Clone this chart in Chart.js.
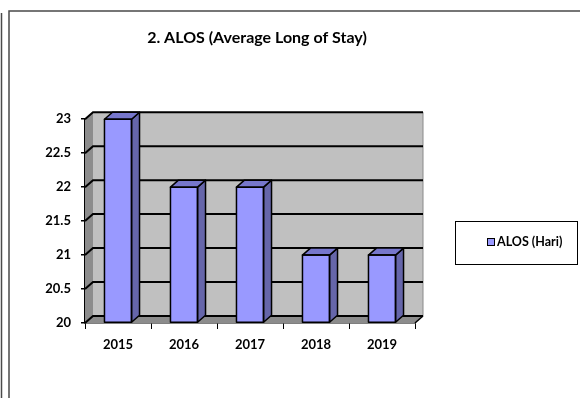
<!DOCTYPE html>
<html>
<head>
<meta charset="utf-8">
<script src="https://cdn.jsdelivr.net/npm/chart.js@4/dist/chart.umd.min.js"></script>
<style>
  html, body { margin: 0; padding: 0; background: #ffffff; }
  #wrap { width: 580px; height: 398px; position: relative; }
</style>
</head>
<body>
<div id="wrap"><canvas id="c" width="580" height="398"></canvas></div>
<script>
const titleText = "2. ALOS (Average Long of Stay)";
const categories = ["2015", "2016", "2017", "2018", "2019"];
const seriesLabel = "ALOS (Hari)";
const alosValues = [23, 22, 22, 21, 21];
const yTicks = [20, 20.5, 21, 21.5, 22, 22.5, 23];
const yMin = 20, yMax = 23;

const DX = 8, DY = -7;
const FONT = "Lato, 'Liberation Sans', sans-serif";

const threeD = {
  id: 'threeD',
  beforeDraw(chart) {
    const ctx = chart.ctx;
    ctx.save();
    ctx.fillStyle = '#ffffff';
    ctx.fillRect(0, 0, chart.width, chart.height);
    // page frame
    ctx.strokeStyle = '#4a4a4a';
    ctx.lineWidth = 1.5;
    ctx.beginPath();
    ctx.moveTo(9, 398); ctx.lineTo(9, 11); ctx.lineTo(580, 11);
    ctx.moveTo(1.5, 13); ctx.lineTo(1.5, 398);
    ctx.stroke();
    ctx.restore();
  },
  beforeDatasetsDraw(chart) {
    const ctx = chart.ctx;
    const a = chart.chartArea;
    const y = chart.scales.y;
    const L = a.left, R = a.right, T = a.top, B = a.bottom;
    ctx.save();
    // back wall
    ctx.fillStyle = '#c0c0c0';
    ctx.fillRect(L + DX, T + DY, R - L, B - T);
    // left side wall
    ctx.fillStyle = '#8c8c8c';
    ctx.beginPath();
    ctx.moveTo(L, T); ctx.lineTo(L + DX, T + DY); ctx.lineTo(L + DX, B + DY); ctx.lineTo(L, B);
    ctx.closePath(); ctx.fill();
    // floor
    ctx.fillStyle = '#8c8c8c';
    ctx.beginPath();
    ctx.moveTo(L, B); ctx.lineTo(L + DX, B + DY); ctx.lineTo(R + DX, B + DY); ctx.lineTo(R, B);
    ctx.closePath(); ctx.fill();
    // right wall edge
    ctx.strokeStyle = '#8a8a8a';
    ctx.lineWidth = 1;
    ctx.beginPath();
    ctx.moveTo(R + DX, T + DY); ctx.lineTo(R + DX, B + DY);
    ctx.stroke();
    // gridlines
    ctx.strokeStyle = '#000000';
    ctx.lineWidth = 2;
    yTicks.forEach(v => {
      const py = y.getPixelForValue(v);
      ctx.beginPath();
      ctx.moveTo(L, py); ctx.lineTo(L + DX, py + DY); ctx.lineTo(R + DX, py + DY);
      ctx.stroke();
    });
    // floor right edge
    ctx.lineWidth = 1.5;
    ctx.beginPath();
    ctx.moveTo(R, B); ctx.lineTo(R + DX, B + DY);
    ctx.stroke();
    ctx.restore();
  },
  afterDatasetsDraw(chart) {
    const ctx = chart.ctx;
    const meta = chart.getDatasetMeta(0);
    ctx.save();
    ctx.strokeStyle = '#000000';
    ctx.lineWidth = 1.5;
    ctx.lineJoin = 'round';
    meta.data.forEach(bar => {
      const xl = bar.x - bar.width / 2, xr = bar.x + bar.width / 2;
      const yt = bar.y, yb = bar.base;
      // side face
      ctx.fillStyle = '#6666aa';
      ctx.beginPath();
      ctx.moveTo(xr, yt); ctx.lineTo(xr + DX, yt + DY); ctx.lineTo(xr + DX, yb + DY); ctx.lineTo(xr, yb);
      ctx.closePath(); ctx.fill(); ctx.stroke();
      // top face
      ctx.fillStyle = '#7777cc';
      ctx.beginPath();
      ctx.moveTo(xl, yt); ctx.lineTo(xl + DX, yt + DY); ctx.lineTo(xr + DX, yt + DY); ctx.lineTo(xr, yt);
      ctx.closePath(); ctx.fill(); ctx.stroke();
      // front outline
      ctx.strokeRect(xl, yt, xr - xl, yb - yt);
    });
    ctx.restore();
  },
  afterDraw(chart) {
    const ctx = chart.ctx;
    const ds = chart.data.datasets[0];
    ctx.save();
    // legend box
    ctx.strokeStyle = '#000000';
    ctx.lineWidth = 1;
    ctx.fillStyle = '#ffffff';
    ctx.fillRect(455.5, 221.5, 122, 43);
    ctx.strokeRect(455.5, 221.5, 122, 43);
    // marker
    ctx.fillStyle = ds.backgroundColor;
    ctx.fillRect(487.5, 238.5, 7, 7);
    ctx.strokeRect(487.5, 238.5, 7, 7);
    ctx.fillStyle = '#000000';
    ctx.font = "bold 12.5px " + FONT;
    ctx.textBaseline = 'middle';
    ctx.textAlign = 'left';
    ctx.fillText(ds.label, 497, 242);
    ctx.restore();
  }
};

new Chart(document.getElementById('c'), {
  type: 'bar',
  data: {
    labels: categories,
    datasets: [{
      label: seriesLabel,
      data: alosValues,
      base: yMin,
      backgroundColor: '#9999ff',
      borderColor: '#000000',
      borderWidth: 0,
      categoryPercentage: 1.0,
      barPercentage: 0.41
    }]
  },
  options: {
    responsive: false,
    animation: false,
    devicePixelRatio: 1,
    layout: { padding: { left: 45, right: 111, top: 0, bottom: 0 } },
    plugins: {
      legend: { display: false },
      tooltip: { enabled: false },
      title: {
        display: true,
        text: titleText,
        color: '#000000',
        font: { family: FONT, size: 16, weight: 'bold' },
        padding: { top: 28, bottom: 72 }
      }
    },
    scales: {
      x: {
        afterFit(scale) { scale.height = 75; },
        grid: { display: true, drawOnChartArea: false, drawTicks: true, tickLength: 6, color: '#000000', lineWidth: 1, offset: true },
        border: { display: true, color: '#000000', width: 1.5 },
        ticks: { color: '#000000', font: { family: FONT, size: 13, weight: 'bold' }, padding: 8 }
      },
      y: {
        min: yMin, max: yMax,
        beginAtZero: false,
        afterFit(scale) { scale.width = 40; },
        afterBuildTicks(scale) { scale.ticks = yTicks.map(v => ({ value: v })); },
        grid: { display: true, drawOnChartArea: false, drawTicks: true, tickLength: 4, color: '#000000', lineWidth: 1.5 },
        border: { display: true, color: '#000000', width: 1.5 },
        ticks: { color: '#000000', font: { family: FONT, size: 13, weight: 'bold' }, padding: 10, callback: v => String(v) }
      },
      legendSpace: {
        type: 'linear',
        position: 'right',
        display: true,
        afterFit(scale) { scale.width = 54; },
        grid: { display: false },
        border: { display: false },
        ticks: { display: false }
      }
    }
  },
  plugins: [threeD]
});
</script>
</body>
</html>
